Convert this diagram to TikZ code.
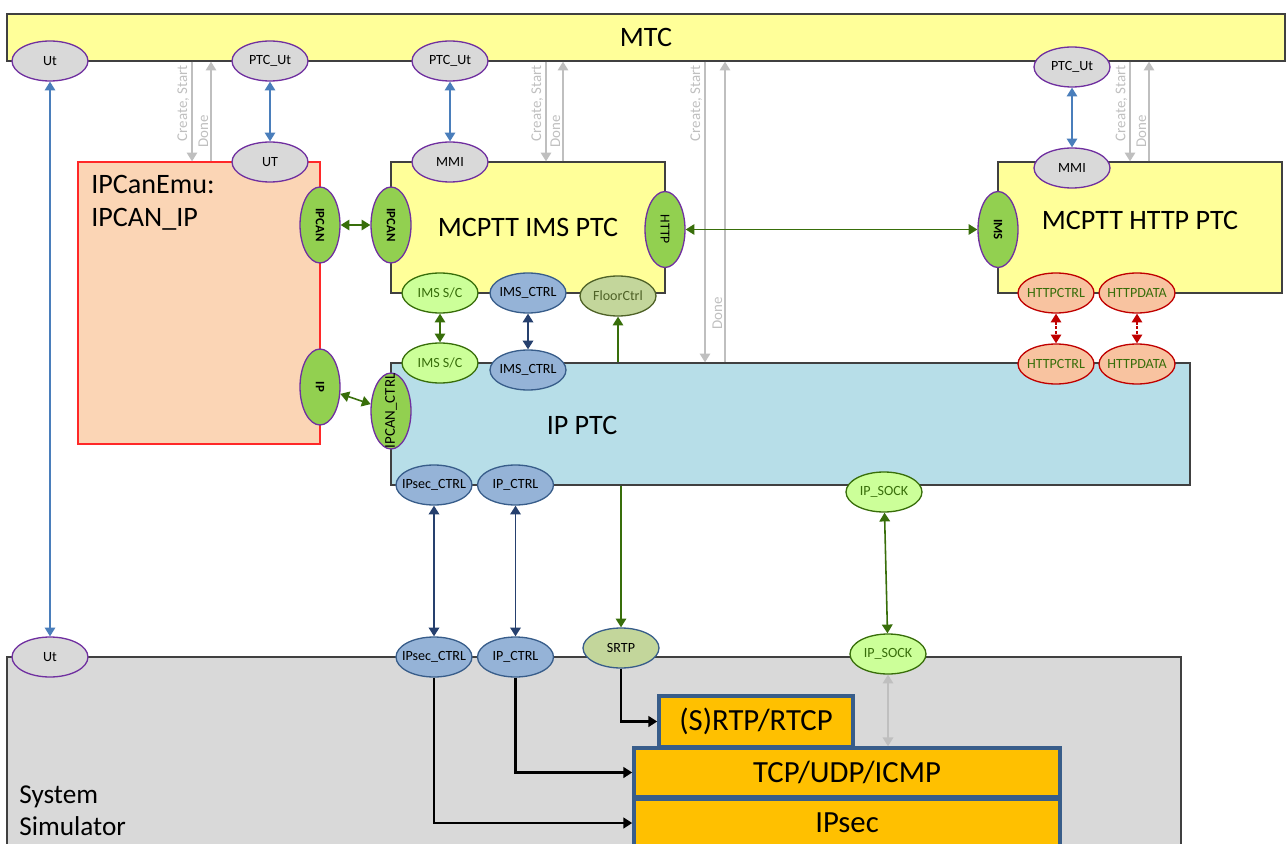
\documentclass[tikz,border=0pt]{standalone}
\usepackage{fontspec}
\setmainfont{Carlito}
\usepackage{xcolor}
\definecolor{mtcyellow}{RGB}{255,255,153}
\definecolor{emupeach}{RGB}{251,213,181}
\definecolor{emured}{RGB}{255, 40, 40}
\definecolor{ipblue}{RGB}{183,222,232}
\definecolor{simgray}{RGB}{217,217,217}
\definecolor{boxedge}{RGB}{ 64, 64, 64}
\definecolor{stackorange}{RGB}{255,192,  0}
\definecolor{stackedge}{RGB}{ 56, 93,138}
\definecolor{portgray}{RGB}{217,217,217}
\definecolor{portpurple}{RGB}{112, 48,160}
\definecolor{portgreen}{RGB}{146,208, 80}
\definecolor{softgreen}{RGB}{204,255,153}
\definecolor{darkgreen}{RGB}{ 56,110, 10}
\definecolor{ctrlblue}{RGB}{149,179,215}
\definecolor{ctrledge}{RGB}{ 56, 93,138}
\definecolor{ctrlnavy}{RGB}{ 38, 64,110}
\definecolor{floorolive}{RGB}{195,214,155}
\definecolor{oliveedge}{RGB}{ 79, 98, 40}
\definecolor{httpsalmon}{RGB}{248,195,160}
\definecolor{httpred}{RGB}{192,  0,  0}
\definecolor{utblue}{RGB}{ 74,126,187}
\definecolor{ctlgray}{RGB}{191,191,191}
\usepackage{tikz}
\usetikzlibrary{
  shapes.geometric,
  arrows.meta, positioning, calc
}

\tikzset{
  >={Triangle[length=5pt,width=6pt]},
  wh/.style 2 args={minimum width=#1*0.02cm, minimum height=#2*0.02cm},
  blockbox/.style={draw=boxedge, line width=0.75pt, inner sep=0pt},
  boxtitle/.style={inner sep=0pt, font=\fontsize{16}{19}\selectfont},
  stackbox/.style={draw=stackedge, fill=stackorange, line width=2pt, inner sep=0pt,
    font=\fontsize{17.5}{21}\selectfont},
  iface/.style={ellipse, draw=portpurple, line width=0.75pt, inner xsep=-10pt, inner ysep=0pt,
    minimum width=1.52cm, minimum height=0.8cm, font=\fontsize{8}{9}\selectfont},
  utport/.style={iface, fill=portgray},
  ifport/.style={iface, fill=portgreen, rotate=-90, font=\fontsize{7.3}{9}\selectfont\bfseries},
  scport/.style={iface, fill=softgreen, draw=darkgreen, text=darkgreen},
  ctrlport/.style={iface, fill=ctrlblue, draw=ctrledge},
  floorport/.style={iface, fill=floorolive, draw=oliveedge, text=oliveedge},
  httpport/.style={iface, fill=httpsalmon, draw=httpred, text=darkgreen},
  ctllabel/.style={inner sep=0pt, rotate=90, text=ctlgray, font=\fontsize{8.5}{10}\selectfont},
  ctlline/.style={draw=ctlgray, line width=0.8pt},
  utline/.style={draw=utblue, line width=0.8pt},
  grnline/.style={draw=darkgreen, line width=0.9pt},
  navyline/.style={draw=ctrlnavy, line width=1pt},
  httpline/.style={draw=httpred, line width=0.8pt, dash pattern=on 1.5pt off 1pt},
  stackline/.style={draw=black, line width=1.4pt}
}

\begin{document}
\begin{tikzpicture}[x=0.02cm, y=-0.02cm]
  \clip (0,0) rectangle (1287,844);

  % components
  \node[blockbox, fill=mtcyellow, wh={1278}{47}, font=\fontsize{16}{19}\selectfont] (mtc) at (646,37.5) {MTC};
  \node[blockbox, draw=emured, fill=emupeach, wh={242}{282}] (emu) at (199,303) {};
  \node[boxtitle, anchor=north west, align=left] (emutitle) at (91,175) {IPCanEmu:\\IPCAN\_IP};
  \node[blockbox, fill=mtcyellow, wh={274}{131}, boxtitle] (imsptc) at (528,227.5) {MCPTT IMS PTC};
  \node[blockbox, fill=mtcyellow, wh={284}{131}] (httpptc) at (1140,227.5) {};
  \node[boxtitle] (httptitle) at (1140,220) {MCPTT HTTP PTC};
  \node[blockbox, fill=ipblue, wh={799}{122}] (ipptc) at (790.5,424) {};
  \node[boxtitle] (iptitle) at (582,425) {IP PTC};
  \node[blockbox, fill=simgray, wh={1174}{260}] (sysim) at (594,787) {};
  \node[inner sep=0pt, anchor=north west, align=left, font=\fontsize{15.5}{18.7}\selectfont] (simtitle) at (19,785) {System\\Simulator};

  % protocol stack
  \node[stackbox, wh={194}{51}] (rtp) at (756,721.5) {(S)RTP/RTCP};
  \node[stackbox, wh={426}{49}] (tcp) at (847,772.5) {TCP/UDP/ICMP};
  \node[stackbox, wh={426}{48}] (ipsec) at (847,823) {IPsec};

  % ports
  \node[utport] (utA) at (50,61) {Ut};
  \node[utport] (ptcutA) at (270,61) {PTC\_Ut};
  \node[utport] (ptcutB) at (450,61) {PTC\_Ut};
  \node[utport] (ptcutC) at (1072,67) {PTC\_Ut};
  \node[utport] (utEmu) at (270,162) {UT};
  \node[utport] (mmiA) at (450,162) {MMI};
  \node[utport] (mmiB) at (1072,168) {MMI};
  \node[ifport] (ipcanE) at (320,225) {IPCAN};
  \node[ifport] (ipE) at (320,387) {IP};
  \node[ifport] (ipcanI) at (391,225) {IPCAN};
  \node[ifport, font=\fontsize{7.8}{9}\selectfont] (httpI) at (665,229.5) {HTTP};
  \node[ifport] (imsH) at (998,229.5) {IMS};
  \node[ifport, rotate=180, font=\fontsize{8.5}{10}\selectfont] (ipcanctrl) at (391,411) {IPCAN\_CTRL};
  \node[scport] (imsscA) at (440,293) {IMS S/C};
  \node[ctrlport] (imsctrlA) at (528,293) {IMS\_CTRL};
  \node[floorport] (floor) at (618,296) {FloorCtrl};
  \node[httpport] (httpctrlA) at (1056,293) {HTTPCTRL};
  \node[httpport] (httpdataA) at (1137,293) {HTTPDATA};
  \node[scport] (imsscB) at (440,363) {IMS S/C};
  \node[ctrlport] (imsctrlB) at (528,370) {IMS\_CTRL};
  \node[httpport] (httpctrlB) at (1056,364) {HTTPCTRL};
  \node[httpport] (httpdataB) at (1137,364) {HTTPDATA};
  \node[ctrlport] (ipsecA) at (434,485) {IPsec\_CTRL};
  \node[ctrlport] (ipctrlA) at (515.5,485) {IP\_CTRL};
  \node[scport] (ipsockA) at (884,492) {IP\_SOCK};
  \node[utport] (utB) at (50,657) {Ut};
  \node[ctrlport] (ipsecB) at (434,657) {IPsec\_CTRL};
  \node[ctrlport] (ipctrlB) at (515.5,657) {IP\_CTRL};
  \node[iface, fill=floorolive, draw=ctrledge] (srtp) at (621,648) {SRTP};
  \node[scport] (ipsockB) at (888,654) {IP\_SOCK};

  % create/start and done
  \foreach \cxa/\dxa/\tgt/\dbot in {192/211/emu/148, 546/563/imsptc/148, 705/725/ipptc/330, 1130/1149/httpptc/148}{
    \coordinate (cs\cxa) at (\cxa,0);
    \coordinate (dn\dxa) at (\dxa,0);
    \draw[ctlline,->] (cs\cxa |- mtc.south) -- (cs\cxa |- \tgt.north);
    \draw[ctlline,->] (dn\dxa |- \tgt.north) -- (dn\dxa |- mtc.south);
    \node[ctllabel, anchor=south east] (create\cxa) at (\cxa-2.5,65) {Create, Start};
    \node[ctllabel, anchor=south west] (done\dxa) at (\dxa-2.5,\dbot) {Done};
  }

  % links
  \draw[utline,<->] (utA) -- (utB);
  \draw[utline,<->] (ptcutA) -- (utEmu);
  \draw[utline,<->] (ptcutB) -- (mmiA);
  \draw[utline,<->] (ptcutC) -- (mmiB);
  \draw[grnline,<->] (ipcanE) -- (ipcanI);
  \draw[grnline,<->] (ipE) -- (ipcanctrl);
  \draw[grnline,<->] (httpI) -- (imsH);
  \draw[grnline,<->] (imsscA) -- (imsscB);
  \draw[navyline,<->] (imsctrlA) -- (imsctrlB);
  \draw[grnline,->] (floor |- ipptc.north) -- (floor);
  \draw[httpline,<->] (httpctrlA) -- (httpctrlB);
  \draw[httpline,<->] (httpdataA) -- (httpdataB);
  \draw[navyline,<->] (ipsecA) -- (ipsecB);
  \draw[navyline,<->] (ipctrlA) -- (ipctrlB);
  \draw[grnline,->] (srtp |- ipptc.south) -- (srtp);
  \draw[grnline,<->] (ipsockA) -- (ipsockB);
  \draw[ctlline,<->] (ipsockB) -- (ipsockB |- tcp.north);
  \draw[stackline,->] (srtp) |- (rtp);
  \draw[stackline,->] (ipctrlB) |- (tcp);
  \draw[stackline,->] (ipsecB) |- (ipsec);
\end{tikzpicture}
\end{document}
